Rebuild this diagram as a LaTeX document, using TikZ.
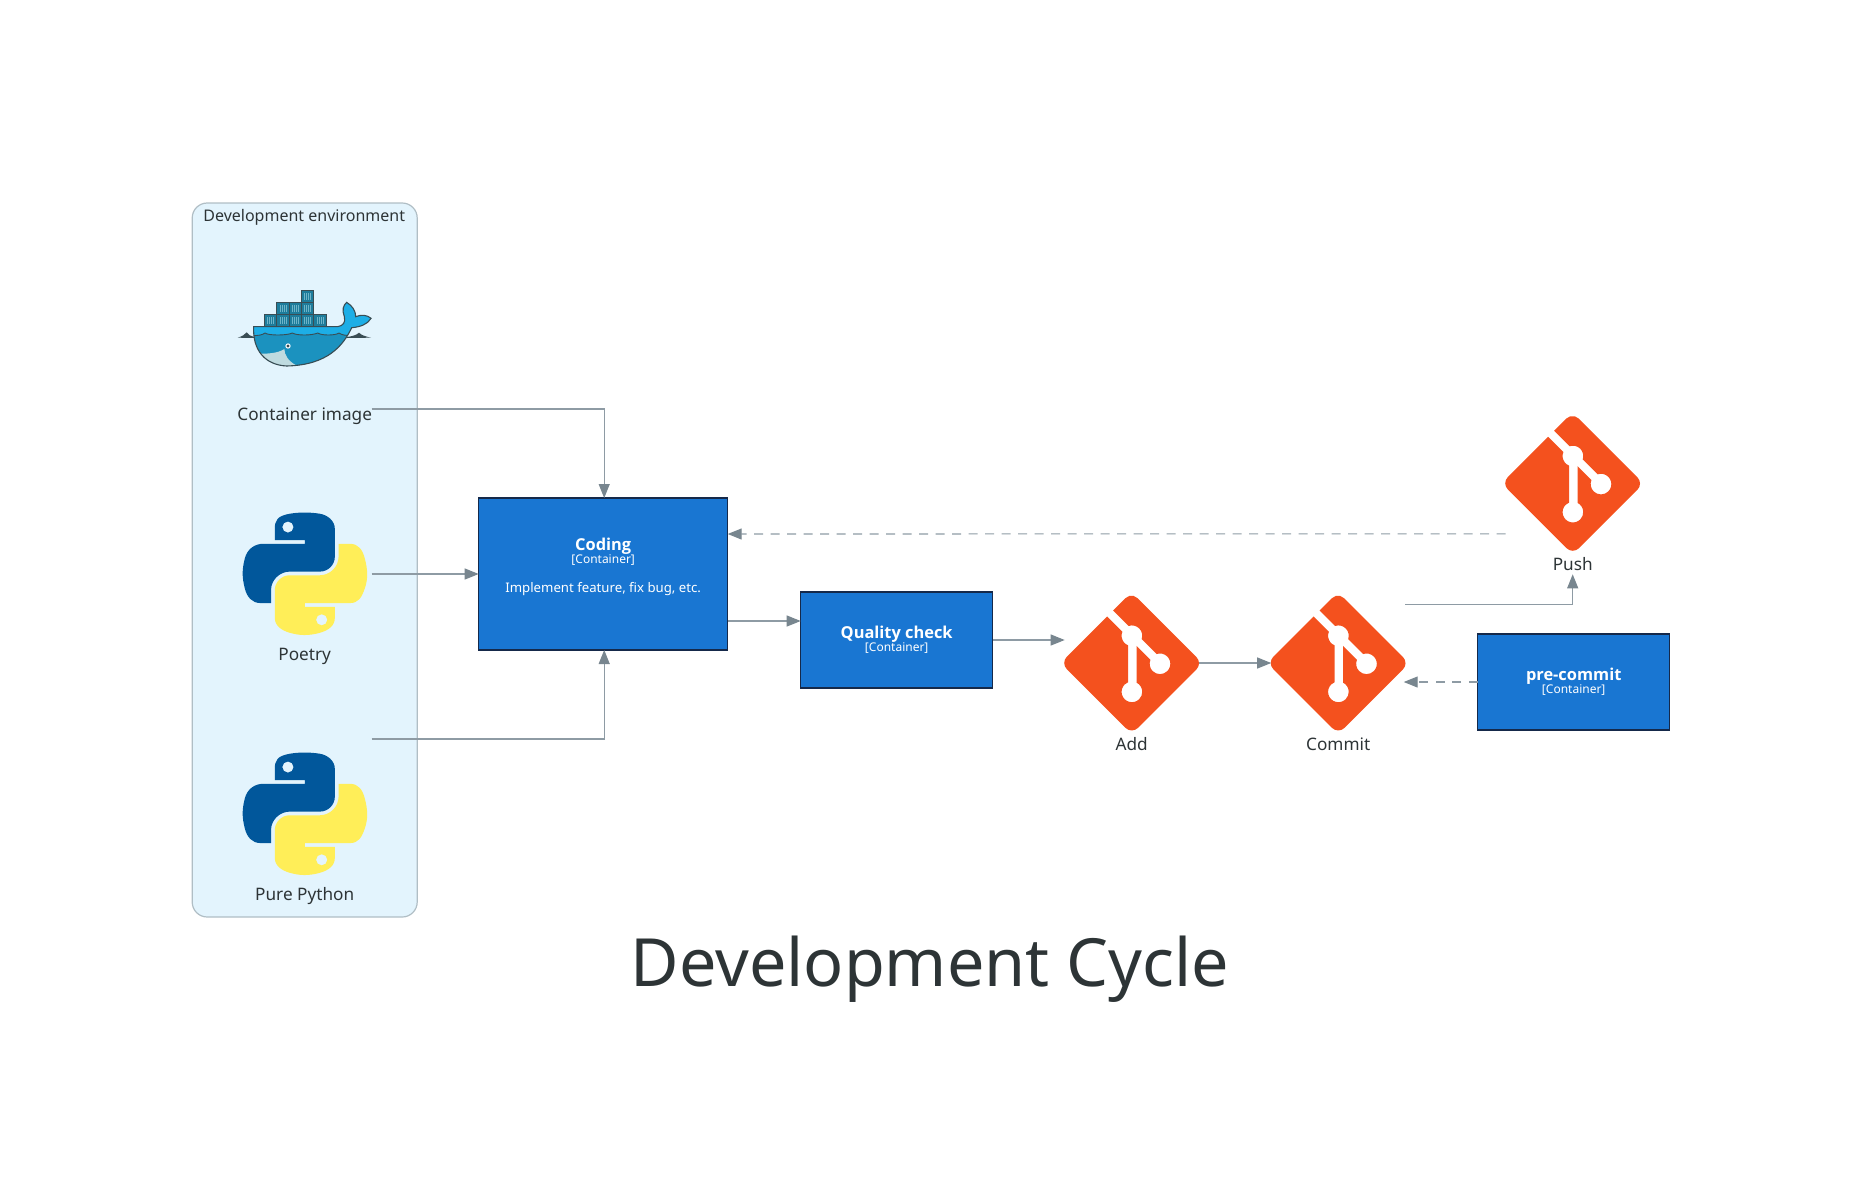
\documentclass[tikz,border=0pt]{standalone}
\usepackage{fontspec}
\setmainfont{Noto Sans}
\newfontfamily\namefamily{Open Sans}
\usetikzlibrary{arrows.meta,positioning,calc,svg.path}

\definecolor{boxblue}{HTML}{1976D2}
\definecolor{boxedge}{HTML}{15294A}
\definecolor{edgegray}{HTML}{8E9BA4}
\definecolor{tipgray}{HTML}{78868F}
\definecolor{envfill}{HTML}{E3F4FD}
\definecolor{envedge}{HTML}{B0BEC5}
\definecolor{inkdark}{HTML}{2D3436}
\definecolor{gitred}{HTML}{F4511E}
\definecolor{pyblue}{HTML}{01579B}
\definecolor{pyyellow}{HTML}{FFEE58}
\definecolor{whaledark}{HTML}{394D54}
\definecolor{whalelight}{HTML}{1DAEE6}
\definecolor{whalebody}{HTML}{1B92BF}
\definecolor{whalebelly}{HTML}{BFDBE0}
\definecolor{crateblue}{HTML}{1E7C9B}
\definecolor{cratetick}{HTML}{6EB4C8}

\newcommand{\namefont}{\fontsize{16.4}{17}\namefamily\bfseries}
\newcommand{\tagfont}{\fontsize{12}{13}\selectfont}

\tikzset{
    pythonlogo/.pic={
        \fill[pyblue, even odd rule, yscale=-1.09, xscale=1.12, xshift=-55.4pt, yshift=-56.4pt] svg {M 54.92 0 C 50.34 0.02 45.96 0.41 42.11 1.09 C 30.76 3.10 28.70 7.29 28.70 15.03 L 28.70 25.25 L 55.51 25.25 L 55.51 28.66 L 18.64 28.66 C 10.85 28.66 4.02 33.34 1.89 42.25 C -0.57 52.46 -0.68 58.84 1.89 69.50 C 3.79 77.44 8.35 83.09 16.14 83.09 L 25.36 83.09 L 25.36 70.84 C 25.36 61.99 33.02 54.19 42.11 54.19 L 68.89 54.19 C 76.34 54.19 82.30 48.05 82.30 40.56 L 82.30 15.03 C 82.30 7.77 76.17 2.31 68.89 1.09 C 64.28 0.33 59.50 -0.02 54.92 0 Z M 40.42 8.22 C 43.19 8.22 45.45 10.52 45.45 13.34 C 45.45 16.16 43.19 18.44 40.42 18.44 C 37.64 18.44 35.39 16.16 35.39 13.34 C 35.39 10.52 37.64 8.22 40.42 8.22 Z};
        \fill[pyyellow, even odd rule, yscale=-1.09, xscale=1.12, xshift=-55.4pt, yshift=-56.4pt] svg {M 85.64 28.66 L 85.64 40.56 C 85.64 49.79 77.81 57.56 68.89 57.56 L 42.11 57.56 C 34.77 57.56 28.70 63.84 28.70 71.19 L 28.70 96.72 C 28.70 103.98 35.02 108.26 42.11 110.34 C 50.59 112.84 58.73 113.29 68.89 110.34 C 75.64 108.39 82.30 104.46 82.30 96.72 L 82.30 86.50 L 55.51 86.50 L 55.51 83.09 L 95.70 83.09 C 103.49 83.09 106.39 77.66 109.10 69.50 C 111.90 61.10 111.84 53.03 109.10 42.25 C 107.18 34.49 103.50 28.66 95.70 28.66 Z M 70.57 93.31 C 73.35 93.31 75.61 95.59 75.61 98.41 C 75.61 101.23 73.35 103.53 70.57 103.53 C 67.80 103.53 65.54 101.23 65.54 98.41 C 65.54 95.59 67.80 93.31 70.57 93.31 Z};
    },
    gitlogo/.pic={
        \fill[gitred, yscale=-1, scale=1.467, xshift=-46pt, yshift=-46pt] svg {M 90.156 41.965 L 50.036 1.848 A 5.918 5.918 0 0 0 41.664 1.848 L 33.336 10.18 L 43.902 20.746 A 7.03 7.03 0 0 1 51.132 22.43 A 7.034 7.034 0 0 1 52.801 29.707 L 62.988 39.891 A 7.028 7.028 0 0 1 70.266 41.563 A 7.04 7.04 0 0 1 70.266 51.52 A 7.05 7.05 0 0 1 60.301 51.52 A 7.044 7.044 0 0 1 58.773 43.86 L 49.273 34.363 L 49.273 59.36 A 7.04 7.04 0 0 1 51.133 70.65 A 7.04 7.04 0 0 1 41.176 70.65 A 7.04 7.04 0 0 1 41.176 60.692 A 7.06 7.06 0 0 1 43.48 59.153 L 43.48 33.926 A 7.049 7.049 0 0 1 39.66 24.692 L 29.242 14.272 L 1.73 41.777 A 5.925 5.925 0 0 0 1.73 50.148 L 41.852 90.27 A 5.925 5.925 0 0 0 50.222 90.27 L 90.156 50.336 A 5.925 5.925 0 0 0 90.156 41.965 Z};
    },
    dockerlogo/.pic={
        \begin{scope}[scale=1/3, shift={(-219,-129)}]
            \def\whalepath{(66,125) -- (318,125) .. controls (335,122) and (342,112) .. (338,95) .. controls (330,75) and (335,60) .. (345,52) .. controls (362,62) and (372,78) .. (372,95) .. controls (388,88) and (408,90) .. (418,100) .. controls (408,118) and (385,126) .. (360,128) .. controls (335,180) and (290,240) .. (165,243) .. controls (100,240) and (62,195) .. (66,125) -- cycle}
            \fill[whaledark] (18,158) .. controls (32,154) and (40,148) .. (45,142) .. controls (50,150) and (58,154) .. (68,156) -- (68,159) -- cycle;
            \fill[whaledark] (345,156) .. controls (362,154) and (375,150) .. (382,143) .. controls (388,150) and (402,155) .. (418,158) -- (345,159) -- cycle;
            \fill[whalelight] \whalepath;
            \begin{scope}
                \clip \whalepath;
                \fill[whalebody] (60,152) .. controls (80,152) and (92,150) .. (100,144) .. controls (110,152) and (165,152) .. (182,144) .. controls (195,152) and (240,152) .. (258,144) .. controls (270,152) and (310,152) .. (322,144) .. controls (330,150) and (340,152) .. (370,152) -- (370,250) -- (60,250) -- cycle;
                \draw[whaledark, line width=0.9pt] (60,152) .. controls (80,152) and (92,150) .. (100,144) .. controls (110,152) and (165,152) .. (182,144) .. controls (195,152) and (240,152) .. (258,144) .. controls (270,152) and (310,152) .. (322,144) .. controls (330,150) and (340,152) .. (370,152);
                \fill[whalebelly] (70,205) .. controls (100,208) and (140,205) .. (158,192) .. controls (158,210) and (170,228) .. (192,240) -- (100,260) -- (60,230) -- cycle;
            \end{scope}
            \draw[whaledark, line width=1.1pt] \whalepath;
            \fill[white] (169,183) circle (8);
            \fill[whaledark] (169,183) circle (5);
            \foreach \bx/\by in {208/16, 135/52, 172/52, 209/52, 98/88, 135/88, 172/88, 209/88, 246/88} {
                \draw[whaledark, line width=0.8pt, fill=crateblue] (\bx,\by) rectangle ++(37,36);
                \foreach \tx in {9,15,21,27}
                    \draw[cratetick, line width=0.4pt] (\bx+\tx,\by+8) -- (\bx+\tx,\by+28);
            }
        \end{scope}
    },
}

\begin{document}
\begin{tikzpicture}[
    x=1pt, y=-1pt,
    blockbox/.style={rectangle, draw=boxedge, line width=1.3pt, fill=boxblue, text=white, align=center, minimum width=192pt, minimum height=96pt, inner sep=0pt, outer sep=0pt},
    envbox/.style={rectangle, rounded corners=15pt, draw=envedge, line width=1.2pt, fill=envfill, minimum width=225pt, minimum height=714pt},
    iconbox/.style={rectangle, minimum width=134pt, minimum height=150pt, inner sep=0pt, outer sep=0pt},
    caption/.style={inner sep=0pt, outer sep=0pt, text height=13pt, text depth=4pt, font=\fontsize{17.2}{20}\selectfont, text=inkdark},
    link/.style={-{Triangle[length=14pt, width=11pt, color=tipgray]}, draw=edgegray, line width=1.1pt},
    dashlink/.style={link, dash pattern=on 9pt off 7.5pt},
]
    \useasboundingbox (0,0) rectangle (1861,1203);

    \node[envbox] (devenv) at (304.7,560) {};
    \node[font=\fontsize{16}{18}\selectfont, text=inkdark, inner sep=0pt] (devenvtitle) at (304.2,217) {Development environment};

    \node[blockbox, minimum width=249pt, minimum height=152pt] (coding) at (603.2,574) {{\namefont Coding}\\[-1pt]{\tagfont [Container]}\\[17.5pt]\fontsize{13.2}{15}\selectfont Implement feature, fix bug, etc.\rule[-17pt]{0pt}{17pt}};
    \node[iconbox, left=107pt of coding] (poetry) {};
    \node[iconbox, above=90pt of poetry] (dockerimg) {};
    \node[iconbox, below=90pt of poetry] (purepython) {};
    \node[caption, below=-2pt of dockerimg] (dockerlabel) {Container image};
    \node[caption, below=-2pt of poetry] (poetrylabel) {Poetry};
    \node[caption, below=-1.5pt of purepython] (purelabel) {Pure Python};

    \node[blockbox, right=73pt of coding, yshift=-66pt] (quality) {{\namefont Quality check}\\[-1pt]{\tagfont [Container]}};
    \node[iconbox, right=72pt of quality, yshift=-23pt] (gitadd) {};
    \node[iconbox, right=72.5pt of gitadd] (gitcommit) {};
    \node[iconbox, right=100.5pt of gitcommit, yshift=179.7pt] (gitpush) {};
    \node[blockbox, right=72.5pt of gitcommit, yshift=-19pt] (precommit) {{\namefont pre-commit}\\[-1pt]{\tagfont [Container]}};
    \node[caption, below=-1pt of gitadd] (addlabel) {Add};
    \node[caption, below=-1pt of gitcommit] (commitlabel) {Commit};
    \node[caption, below=-1pt of gitpush] (pushlabel) {Push};

    \pic at ([yshift=6pt]dockerimg) {dockerlogo};
    \pic at (poetry) {pythonlogo};
    \pic at (purepython) {pythonlogo};
    \pic at (gitadd) {gitlogo};
    \pic at (gitcommit) {gitlogo};
    \pic at (gitpush) {gitlogo};

    \draw[link] (dockerimg.south east) -| ([xshift=1pt]coding.north);
    \draw[link] (poetry.east) -- (coding.west);
    \draw[link] (purepython.north east) -| ([xshift=1pt]coding.south);
    \draw[link] ([yshift=-47pt]coding.east) -- ([yshift=19pt]quality.west);
    \draw[link] (quality.east) -- ([yshift=23pt]gitadd.west);
    \draw[link] (gitadd.east) -- (gitcommit.west);
    \draw[link] ([yshift=58.5pt]gitcommit.east) -| (pushlabel.south);
    \draw[dashlink] ([yshift=-50.5pt]gitpush.west) -- ([yshift=40pt]coding.east);
    \draw[dashlink] (precommit.west) -- ([yshift=-19pt, xshift=-1.5pt]gitcommit.east);

    \node[font=\fontsize{66.5}{70}\selectfont, text=inkdark, inner sep=0pt] (cycletitle) at (930,969) {Development Cycle};
\end{tikzpicture}
\end{document}
